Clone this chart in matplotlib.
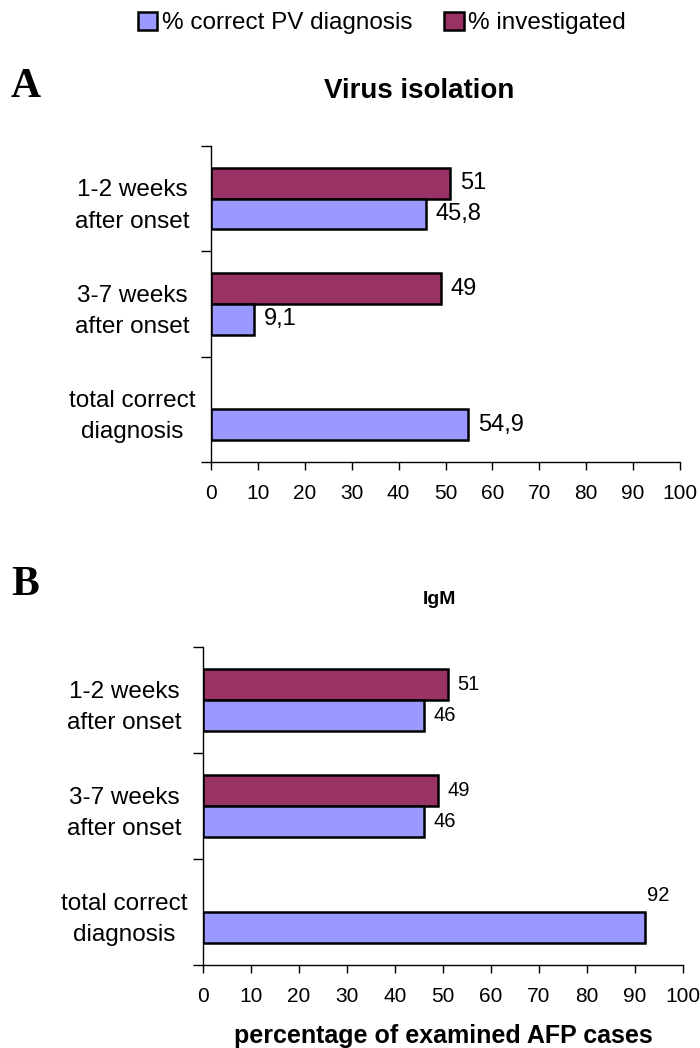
import numpy as np
import matplotlib
matplotlib.use("Agg")
import matplotlib.pyplot as plt
from matplotlib.patches import Patch

plt.rcParams['font.family'] = ['Liberation Sans', 'DejaVu Sans']

categories = ["1-2 weeks\nafter onset", "3-7 weeks\nafter onset", "total correct\ndiagnosis"]
series_names = ["% correct PV diagnosis", "% investigated"]
a_correct = [45.8, 9.1, 54.9]
a_invest = [51, 49, None]
b_correct = [46, 46, 92]
b_invest = [51, 49, None]
x_ticks = list(range(0, 101, 10))

C_CORRECT = "#9999FF"
C_INVEST = "#993366"

W, H = 700, 1048
fig = plt.figure(figsize=(W / 100, H / 100), dpi=100)


def fmt(v):
    return ("%g" % v).replace(".", ",")


def panel(rect, correct, invest, title, title_pos, title_size, val_size, above_last=False):
    ax = fig.add_axes(rect)
    n = len(categories)
    centers = np.arange(n)[::-1] + 0.5  # top slot first
    h = 0.29
    for i, c in enumerate(centers):
        if invest[i] is not None:
            ax.barh(c + h / 2, invest[i], height=h, color=C_INVEST, edgecolor="black", linewidth=1.8)
            ax.annotate(fmt(invest[i]), (invest[i], c + h / 2), xytext=(7, 0),
                        textcoords="offset points", va="center", ha="left", fontsize=val_size)
        ax.barh(c - h / 2, correct[i], height=h, color=C_CORRECT, edgecolor="black", linewidth=1.8)
        if above_last and invest[i] is None:
            # label sits above the bar end
            ax.annotate(fmt(correct[i]), (correct[i], c), xytext=(10, 12),
                        textcoords="offset points", va="center", ha="center", fontsize=val_size)
        else:
            ax.annotate(fmt(correct[i]), (correct[i], c - h / 2), xytext=(7, 0),
                        textcoords="offset points", va="center", ha="left", fontsize=val_size)
    ax.set_xlim(0, 100)
    ax.set_ylim(0, n)
    ax.set_xticks(x_ticks)
    ax.set_xticklabels([str(t) for t in x_ticks], fontsize=15)
    ax.set_yticks(np.arange(n + 1))
    ax.set_yticklabels([])
    ax.set_yticks(centers, minor=True)
    ax.set_yticklabels(categories, minor=True, fontsize=17.5, ha="center", linespacing=1.55)
    ax.tick_params(axis="y", which="minor", length=0, pad=57)
    ax.tick_params(axis="y", which="major", length=7, direction="out", width=1)
    ax.tick_params(axis="x", which="major", length=6, direction="out", width=1, pad=10)
    for s in ["top", "right"]:
        ax.spines[s].set_visible(False)
    for s in ["left", "bottom"]:
        ax.spines[s].set_linewidth(1)
    fig.text(title_pos[0] / W, 1 - title_pos[1] / H, title, fontsize=title_size,
             fontweight="bold", ha="center", va="center")
    return ax


axA = panel([211 / W, 1 - 462 / H, 469 / W, 316 / H], a_correct, a_invest,
            "Virus isolation", (419, 91), 20, 17)
axB = panel([203 / W, 1 - 965 / H, 480 / W, 318 / H], b_correct, b_invest,
            "IgM", (439, 599), 14, 14.5, above_last=True)
axB.set_xlabel("percentage of examined AFP cases", fontsize=18, fontweight="bold", labelpad=13)

fig.text(11 / W, 1 - 87 / H, "A", fontsize=30, fontweight="bold", family="Liberation Serif",
         va="center", ha="left")
fig.text(11 / W, 1 - 585 / H, "B", fontsize=30, fontweight="bold", family="Liberation Serif",
         va="center", ha="left")

handles = [Patch(facecolor=C_CORRECT, edgecolor="black", linewidth=1.8),
           Patch(facecolor=C_INVEST, edgecolor="black", linewidth=1.8)]
fig.legend(handles, series_names, loc="center", bbox_to_anchor=(382 / W, 1 - 23 / H), ncol=2,
           frameon=False, fontsize=17.5, handlelength=0.8, handleheight=0.8, handletextpad=0.2,
           columnspacing=1.3)

fig.savefig("out.png", dpi=100)
